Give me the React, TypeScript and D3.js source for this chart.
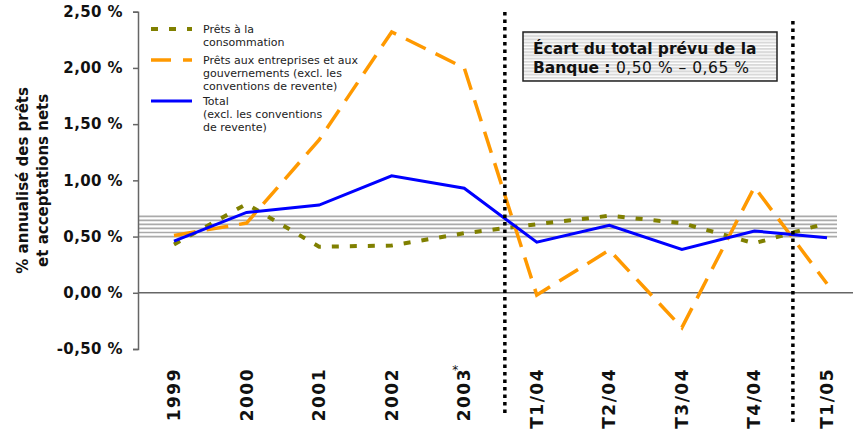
import * as d3 from 'd3';
import React, { useEffect, useRef } from 'react';

const categories = ['1999', '2000', '2001', '2002', '2003', 'T1/04', 'T2/04', 'T3/04', 'T4/04', 'T1/05'];
const consommation = [0.43, 0.79, 0.41, 0.42, 0.53, 0.61, 0.685, 0.62, 0.44, 0.62];
const entreprises = [0.51, 0.62, 1.36, 2.32, 2.0, -0.02, 0.38, -0.31, 0.94, 0.08];
const total = [0.46, 0.715, 0.78, 1.04, 0.93, 0.45, 0.6, 0.386, 0.55, 0.49];
const yTicks = [-0.5, 0, 0.5, 1, 1.5, 2, 2.5];
const bandLevels = [0.5, 0.536, 0.572, 0.608, 0.644, 0.68];
const dividers = [4.56, 8.53];

const FONT = '"DejaVu Sans", Verdana, sans-serif';
const W = 853;
const H = 433;

const fmtPct = (v: number) => `${v.toFixed(2).replace('.', ',')} %`;

export default function App() {
  const svgRef = useRef<SVGSVGElement>(null);

  useEffect(() => {
    if (!svgRef.current) return;
    const svg = d3.select(svgRef.current);
    svg.selectAll('*').remove();

    const axisX = 138;
    const x = d3.scalePoint<string>().domain(categories).range([174, 827]);
    const xi = d3.scaleLinear().domain([0, categories.length - 1]).range([174, 827]);
    const y = d3.scaleLinear().domain([-0.5, 2.5]).range([349, 11.7]);

    // hatched pattern for the note box
    const defs = svg.append('defs');
    const pat = defs.append('pattern')
      .attr('id', 'stripes')
      .attr('patternUnits', 'userSpaceOnUse')
      .attr('width', 8)
      .attr('height', 3.2);
    pat.append('rect').attr('width', 8).attr('height', 3.2).attr('fill', '#ffffff');
    pat.append('rect').attr('width', 8).attr('height', 2).attr('fill', '#d9d9d9');

    // bank range band
    svg.append('g')
      .selectAll('line')
      .data(bandLevels)
      .join('line')
      .attr('x1', axisX)
      .attr('x2', 837)
      .attr('y1', d => y(d))
      .attr('y2', d => y(d))
      .attr('stroke', '#aaaaaa')
      .attr('stroke-width', 1.7);

    // zero line
    svg.append('line')
      .attr('x1', axisX)
      .attr('x2', W)
      .attr('y1', y(0))
      .attr('y2', y(0))
      .attr('stroke', '#666')
      .attr('stroke-width', 1.5);

    // y axis
    const yAxis = d3.axisLeft(y)
      .tickValues(yTicks)
      .tickSize(5)
      .tickPadding(10)
      .tickFormat(d => fmtPct(Number(d)));
    const ga = svg.append('g')
      .attr('transform', `translate(${axisX},0)`)
      .call(yAxis);
    ga.select('.domain').attr('stroke', '#666').attr('stroke-width', 1.5);
    ga.selectAll('.tick line').attr('stroke', '#666').attr('stroke-width', 1.5);
    ga.selectAll('.tick text')
      .attr('font-family', FONT)
      .attr('font-weight', 'bold')
      .attr('font-size', 15)
      .attr('letter-spacing', 0.4)
      .attr('fill', '#111');

    // y title
    const yt = svg.append('text')
      .attr('transform', `translate(28,${(y(2.5) + y(-0.5)) / 2}) rotate(-90)`)
      .attr('text-anchor', 'middle')
      .attr('font-family', FONT)
      .attr('font-weight', 'bold')
      .attr('font-size', 15)
      .attr('fill', '#111');
    yt.append('tspan').attr('x', 0).attr('dy', 0).text('% annualisé des prêts');
    yt.append('tspan').attr('x', 0).attr('dy', 20).text('et acceptations nets');

    // x labels
    svg.append('g')
      .selectAll('text')
      .data(categories)
      .join('text')
      .attr('transform', d => `translate(${(x(d) || 0) + 6},368) rotate(-90)`)
      .attr('text-anchor', 'end')
      .attr('font-family', FONT)
      .attr('font-weight', 'bold')
      .attr('font-size', 17)
      .attr('letter-spacing', 1.5)
      .attr('fill', '#111')
      .text(d => d);
    svg.append('text')
      .attr('x', (x('2003') || 0) - 12)
      .attr('y', 374)
      .attr('font-family', FONT)
      .attr('font-size', 12)
      .attr('fill', '#111')
      .text('*');

    // series
    const series = [
      { values: consommation, color: '#808000', width: 4, dash: '7,11' },
      { values: entreprises, color: '#ff9900', width: 3.5, dash: '22,11' },
      { values: total, color: '#0000ff', width: 3, dash: null },
    ];
    const line = d3.line<number>()
      .x((_, i) => x(categories[i]) || 0)
      .y(d => y(d));
    series.forEach(s => {
      svg.append('path')
        .datum(s.values)
        .attr('d', line)
        .attr('fill', 'none')
        .attr('stroke', s.color)
        .attr('stroke-width', s.width)
        .attr('stroke-dasharray', s.dash)
        .attr('stroke-linejoin', 'miter');
    });

    // dotted dividers
    svg.append('g')
      .selectAll('line')
      .data(dividers)
      .join('line')
      .attr('x1', d => xi(d))
      .attr('x2', d => xi(d))
      .attr('y1', (_, i) => (i === 0 ? 12 : 21))
      .attr('y2', (_, i) => (i === 0 ? 414 : 423))
      .attr('stroke', '#000')
      .attr('stroke-width', 3.5)
      .attr('stroke-dasharray', '3.5,4');

    // legend
    const legend = [
      { color: '#808000', width: 4, dash: '7,11', lines: ['Prêts à la', 'consommation'], y: 29 },
      { color: '#ff9900', width: 3.5, dash: '20,12', lines: ['Prêts aux entreprises et aux', 'gouvernements (excl. les', 'conventions de revente)'], y: 60 },
      { color: '#0000ff', width: 3, dash: null, lines: ['Total', '(excl. les conventions', 'de revente)'], y: 101 },
    ];
    const lg = svg.append('g');
    legend.forEach(item => {
      lg.append('line')
        .attr('x1', 151)
        .attr('x2', 192)
        .attr('y1', item.y)
        .attr('y2', item.y)
        .attr('stroke', item.color)
        .attr('stroke-width', item.width)
        .attr('stroke-dasharray', item.dash);
      const t = lg.append('text')
        .attr('x', 203)
        .attr('y', item.y + 4)
        .attr('font-family', FONT)
        .attr('font-size', 11)
        .attr('fill', '#222');
      item.lines.forEach((l, i) => {
        t.append('tspan').attr('x', 203).attr('dy', i === 0 ? 0 : 13).text(l);
      });
    });

    // note box
    const box = svg.append('g');
    box.append('rect')
      .attr('x', 523)
      .attr('y', 32)
      .attr('width', 254)
      .attr('height', 49)
      .attr('fill', 'url(#stripes)')
      .attr('stroke', '#222')
      .attr('stroke-width', 1.5);
    box.append('text')
      .attr('x', 533)
      .attr('y', 54)
      .attr('font-family', FONT)
      .attr('font-weight', 'bold')
      .attr('font-size', 15.5)
      .attr('fill', '#111')
      .text('Écart du total prévu de la');
    const t2 = box.append('text')
      .attr('x', 533)
      .attr('y', 73)
      .attr('font-family', FONT)
      .attr('font-size', 15.5)
      .attr('fill', '#111');
    t2.append('tspan').attr('font-weight', 'bold').text('Banque :');
    t2.append('tspan').attr('letter-spacing', 0.5).text(' 0,50 % – 0,65 %');
  }, []);

  return (
    <div style={{ position: 'absolute', left: 0, top: 0 }}>
      <svg ref={svgRef} width={W} height={H} style={{ display: 'block', background: '#fff' }} />
    </div>
  );
}
